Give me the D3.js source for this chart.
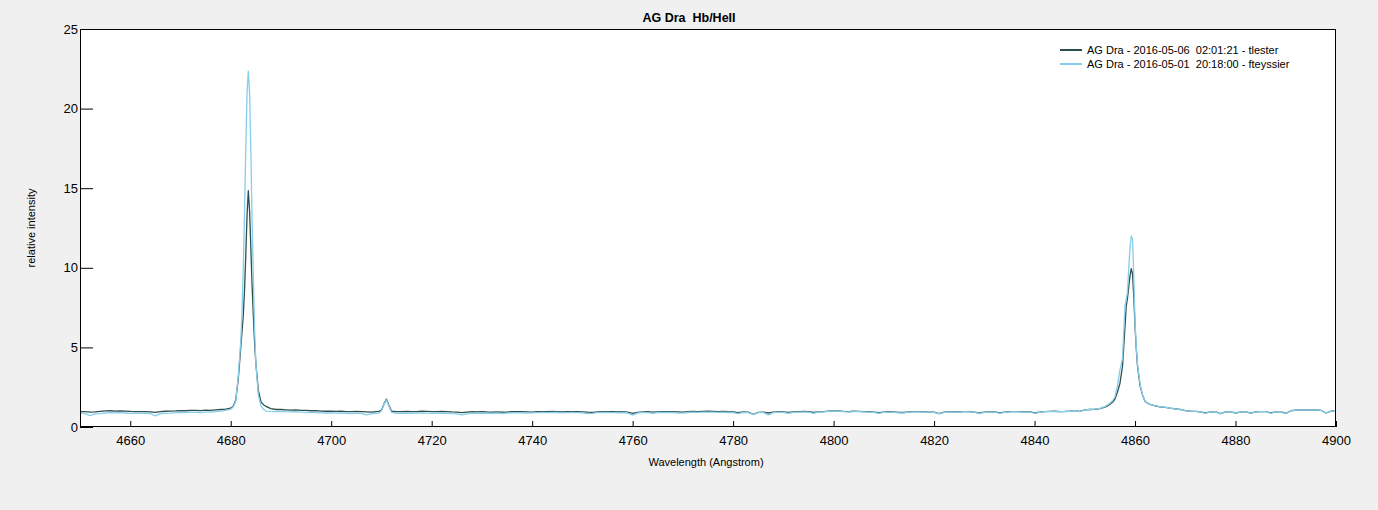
<!DOCTYPE html>
<html>
<head>
<meta charset="utf-8">
<script src="https://cdn.jsdelivr.net/npm/d3@7"></script>
<style>
  html, body { margin: 0; padding: 0; background: #f0f0f0; }
  svg { display: block; font-family: "Liberation Sans", Arial, sans-serif; }
  svg text { white-space: pre; }
</style>
</head>
<body>
<svg id="chart" width="1378" height="510"></svg>
<script>
// ---------------- DATA ----------------
const title = "AG Dra  Hb/HeII";
const xLabel = "Wavelength (Angstrom)";
const yLabel = "relative intensity";
const seriesNames = [
  "AG Dra - 2016-05-06  02:01:21 - tlester",
  "AG Dra - 2016-05-01  20:18:00 - fteyssier"
];
const xTicks = [4660, 4680, 4700, 4720, 4740, 4760, 4780, 4800, 4820, 4840, 4860, 4880, 4900];
const yTicks = [0, 5, 10, 15, 20, 25];

// sampling grid (Angstrom)
const peak1Grid = [4679, 4680, 4680.5, 4681, 4681.5, 4682, 4682.25, 4682.5, 4682.75, 4683, 4683.25, 4683.5,
  4683.75, 4684, 4684.25, 4684.5, 4684.75, 4685, 4685.5, 4686, 4686.5, 4687, 4688, 4689];
const peak3Grid = [4709.5, 4710, 4710.5, 4711, 4711.5, 4712];
const peak2Grid = [4854, 4854.5, 4855, 4855.5, 4856, 4856.5, 4857, 4857.5, 4858, 4858.25, 4858.5, 4858.75,
  4859, 4859.25, 4859.5, 4859.75, 4860, 4860.25, 4860.5, 4861, 4861.5, 4862, 4862.5, 4863];
const wavelength = [
  ...d3.range(4650, 4679), ...peak1Grid,
  ...d3.range(4690, 4710), ...peak3Grid,
  ...d3.range(4713, 4854), ...peak2Grid,
  ...d3.range(4864, 4901)
];

const fluxTlester = [
  // 4650-4678
  0.97, 0.96, 0.93, 0.95, 0.98, 1.01, 1.02, 1.00, 1.01, 1.00,
  0.98, 0.97, 0.96, 0.97, 0.95, 0.92, 0.96, 0.99, 1.00, 1.01,
  1.03, 1.02, 1.04, 1.05, 1.03, 1.06, 1.05, 1.08, 1.10,
  // peak 1 (HeII)
  1.12, 1.18, 1.30, 1.70, 3.0, 5.0, 6.0, 7.0, 8.6, 10.8, 13.3, 14.85,
  13.6, 11.3, 8.9, 7.0, 5.3, 4.0, 2.3, 1.6, 1.4, 1.3, 1.15, 1.10,
  // 4690-4709
  1.10, 1.08, 1.06, 1.07, 1.05, 1.04, 1.02, 1.03, 1.00, 0.99,
  1.00, 0.98, 0.99, 0.97, 0.96, 0.98, 0.97, 0.95, 0.93, 0.97,
  // small line
  0.98, 1.05, 1.45, 1.75, 1.35, 1.00,
  // 4713-4853
  0.96, 0.97, 0.98, 0.96, 0.97, 0.99, 0.98, 0.97, 0.96, 0.98,
  0.97, 0.95, 0.94, 0.90, 0.94, 0.96, 0.95, 0.97, 0.95, 0.94,
  0.95, 0.93, 0.94, 0.96, 0.97, 0.96, 0.95, 0.94, 0.96, 0.97,
  0.96, 0.98, 0.97, 0.95, 0.96, 0.97, 0.96, 0.95, 0.93, 0.92,
  0.95, 0.96, 0.97, 0.96, 0.95, 0.96, 0.94, 0.85, 0.92, 0.95,
  0.96, 0.93, 0.95, 0.97, 0.96, 0.97, 0.95, 0.93, 0.96, 0.98,
  0.97, 0.98, 0.99, 0.98, 0.97, 0.98, 0.96, 0.95, 0.90, 0.95,
  0.94, 0.80, 0.92, 0.94, 0.88, 0.93, 0.96, 0.95, 0.92, 0.95,
  0.97, 0.98, 0.96, 0.92, 0.95, 0.97, 1.00, 1.03, 1.01, 0.98,
  0.97, 0.99, 0.98, 0.97, 0.96, 0.94, 0.90, 0.94, 0.96, 0.95,
  0.92, 0.91, 0.95, 0.96, 0.96, 0.95, 0.94, 0.93, 0.84, 0.93,
  0.95, 0.96, 0.95, 0.97, 0.96, 0.94, 0.88, 0.93, 0.95, 0.96,
  0.88, 0.93, 0.96, 0.97, 0.96, 0.95, 0.96, 0.88, 0.93, 0.97,
  0.98, 0.99, 0.97, 0.98, 1.00, 1.03, 0.98, 1.08, 1.10, 1.11,
  1.15,
  // peak 2 (Hb)
  1.25, 1.33, 1.43, 1.55, 1.75, 2.2, 2.75, 3.8, 6.3, 7.6, 8.1, 8.8,
  9.5, 9.95, 9.6, 8.2, 6.3, 4.9, 3.8, 2.6, 2.0, 1.6, 1.5, 1.42,
  // 4864-4900
  1.32, 1.27, 1.23, 1.18, 1.14, 1.10, 1.03, 1.00, 0.98, 0.95,
  0.88, 0.95, 0.97, 0.84, 0.95, 0.96, 0.87, 0.95, 0.96, 0.87,
  0.95, 0.97, 0.96, 0.88, 0.95, 0.96, 0.85, 1.02, 1.06, 1.07,
  1.07, 1.06, 1.07, 1.05, 0.88, 1.00, 1.03
];

const fluxFteyssier = [
  // 4650-4678
  0.88, 0.84, 0.72, 0.82, 0.84, 0.88, 0.90, 0.89, 0.90, 0.88,
  0.86, 0.85, 0.86, 0.87, 0.84, 0.70, 0.84, 0.86, 0.87, 0.90,
  0.92, 0.91, 0.93, 0.92, 0.90, 0.94, 0.93, 0.96, 1.00,
  // peak 1 (HeII)
  1.05, 1.12, 1.25, 1.6, 3.2, 5.4, 7.2, 10.0, 13.5, 17.5, 21.0, 22.35,
  21.0, 17.5, 13.0, 9.5, 6.2, 4.0, 2.0, 1.35, 1.12, 1.00, 0.98, 0.97,
  // 4690-4709
  0.98, 0.96, 0.95, 0.96, 0.93, 0.92, 0.90, 0.91, 0.89, 0.88,
  0.89, 0.87, 0.88, 0.86, 0.84, 0.86, 0.85, 0.76, 0.82, 0.86,
  // small line
  0.88, 1.00, 1.42, 1.70, 1.30, 0.92,
  // 4713-4853
  0.85, 0.86, 0.88, 0.85, 0.87, 0.89, 0.87, 0.86, 0.85, 0.88,
  0.86, 0.84, 0.83, 0.76, 0.83, 0.86, 0.85, 0.88, 0.86, 0.85,
  0.88, 0.84, 0.87, 0.89, 0.90, 0.89, 0.88, 0.89, 0.90, 0.91,
  0.90, 0.92, 0.91, 0.89, 0.90, 0.91, 0.90, 0.89, 0.84, 0.86,
  0.90, 0.91, 0.92, 0.90, 0.89, 0.91, 0.88, 0.74, 0.88, 0.91,
  0.90, 0.85, 0.90, 0.92, 0.91, 0.92, 0.88, 0.87, 0.91, 0.93,
  0.92, 0.93, 0.94, 0.93, 0.92, 0.93, 0.91, 0.90, 0.84, 0.92,
  0.91, 0.78, 0.90, 0.92, 0.76, 0.90, 0.93, 0.92, 0.86, 0.92,
  0.94, 0.95, 0.93, 0.86, 0.93, 0.95, 0.98, 1.01, 0.99, 0.96,
  0.95, 0.97, 0.96, 0.95, 0.94, 0.92, 0.86, 0.92, 0.94, 0.93,
  0.88, 0.89, 0.94, 0.95, 0.95, 0.94, 0.93, 0.92, 0.82, 0.92,
  0.94, 0.95, 0.94, 0.96, 0.95, 0.93, 0.86, 0.92, 0.94, 0.95,
  0.86, 0.92, 0.95, 0.96, 0.95, 0.94, 0.95, 0.86, 0.92, 0.96,
  0.97, 0.98, 0.96, 0.97, 0.99, 1.02, 0.97, 1.07, 1.10, 1.12,
  1.17,
  // peak 2 (Hb)
  1.28, 1.38, 1.5, 1.65, 1.9, 2.6, 3.6, 4.3, 7.6, 8.0, 8.5, 10.0,
  11.3, 12.0, 11.8, 9.5, 6.6, 5.0, 3.9, 2.7, 2.0, 1.62, 1.5, 1.42,
  // 4864-4900
  1.33, 1.28, 1.24, 1.19, 1.14, 1.10, 1.03, 1.00, 0.98, 0.95,
  0.86, 0.95, 0.97, 0.82, 0.95, 0.96, 0.86, 0.95, 0.96, 0.86,
  0.95, 0.97, 0.96, 0.86, 0.95, 0.96, 0.83, 1.02, 1.06, 1.07,
  1.07, 1.06, 1.07, 1.05, 0.87, 1.00, 1.03
];

const seriesColors = ["#2f4f4f", "#87ceeb"];

// ---------------- CHART ----------------
const svg = d3.select("#chart");
const W = 1378, H = 510;
const m = { left: 80, right: 42, top: 29, bottom: 83 };
const pw = W - m.left - m.right, ph = H - m.top - m.bottom;

svg.append("rect").attr("width", W).attr("height", H).attr("fill", "#f0f0f0");

const x = d3.scaleLinear().domain([4650, 4900]).range([m.left, m.left + pw]);
const y = d3.scaleLinear().domain([0, 25]).range([m.top + ph, m.top]);

svg.append("rect").attr("x", m.left).attr("y", m.top).attr("width", pw).attr("height", ph)
  .attr("fill", "#fff");

svg.append("clipPath").attr("id", "clip").append("rect")
  .attr("x", m.left).attr("y", m.top).attr("width", pw).attr("height", ph);

const series = [fluxTlester, fluxFteyssier];
const line = d3.line().x(d => x(d[0])).y(d => y(d[1]));
const g = svg.append("g").attr("clip-path", "url(#clip)");
series.forEach((vals, i) => {
  const n = Math.min(vals.length, wavelength.length);
  const pts = d3.range(n).map(k => [wavelength[k], vals[k]]);
  g.append("path").datum(pts).attr("d", line)
    .attr("fill", "none").attr("stroke", seriesColors[i]).attr("stroke-width", 1.3)
    .attr("stroke-linejoin", "round");
});

// axes
const xAxis = d3.axisBottom(x).tickValues(xTicks).tickSizeInner(-6).tickSizeOuter(0).tickPadding(9).tickFormat(d3.format("d"));
const gx = svg.append("g").attr("transform", `translate(0,${m.top + ph})`).call(xAxis);
gx.selectAll("text").attr("font-size", 13).attr("fill", "#000").attr("font-family", "Liberation Sans, Arial, sans-serif");
gx.selectAll("line").attr("stroke", "#000");
gx.select(".domain").remove();

const yAxis = d3.axisLeft(y).tickValues(yTicks).tickSizeInner(-13).tickSizeOuter(0).tickPadding(2);
const gy = svg.append("g").attr("transform", `translate(${m.left},0)`).call(yAxis);
gy.selectAll("text").attr("font-size", 13).attr("fill", "#000").attr("font-family", "Liberation Sans, Arial, sans-serif")
  .attr("x", -2);
gy.selectAll("line").attr("stroke", "#000");
gy.select(".domain").remove();

// frame
svg.append("rect").attr("x", m.left + 0.5).attr("y", m.top + 0.5).attr("width", pw - 1).attr("height", ph - 1)
  .attr("fill", "none").attr("stroke", "#000").attr("stroke-width", 1);

// title and labels
svg.append("text").attr("x", W / 2).attr("y", 22).attr("text-anchor", "middle")
  .attr("font-size", 12.5).attr("font-weight", "bold").text(title);
svg.append("text").attr("x", 706).attr("y", 466).attr("text-anchor", "middle")
  .attr("font-size", 11).text(xLabel);
svg.append("text").attr("transform", `translate(35,228) rotate(-90)`).attr("text-anchor", "middle")
  .attr("font-size", 11).text(yLabel);

// legend
const lg = svg.append("g");
seriesNames.forEach((name, i) => {
  const yy = 50 + i * 14;
  lg.append("line").attr("x1", 1060).attr("x2", 1082).attr("y1", yy).attr("y2", yy)
    .attr("stroke", seriesColors[i]).attr("stroke-width", 2);
  lg.append("text").attr("x", 1087).attr("y", yy + 4).attr("font-size", 11).text(name);
});
</script>
</body>
</html>
